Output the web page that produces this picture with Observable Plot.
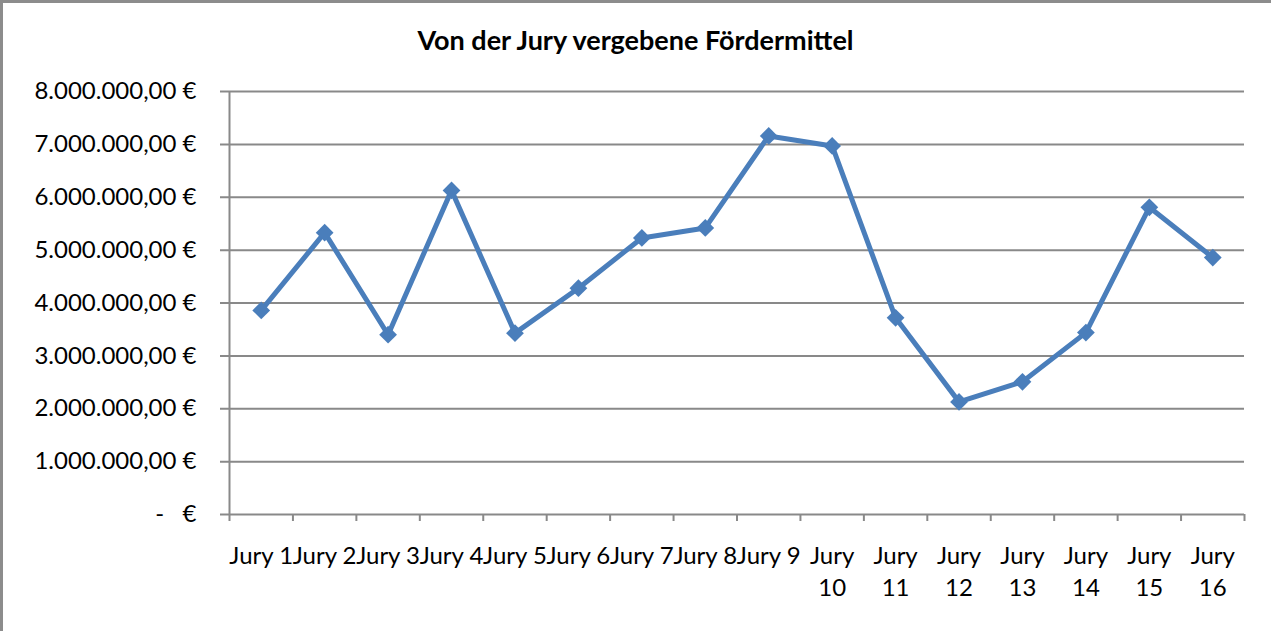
<!DOCTYPE html>
<html><head><meta charset="utf-8">
<script src="https://cdn.jsdelivr.net/npm/d3@7"></script>
<script src="https://cdn.jsdelivr.net/npm/@observablehq/plot@0.6"></script>
<style>
html,body{margin:0;padding:0;background:#fff;}
#wrap{position:relative;width:1271px;height:631px;overflow:hidden;font-family:Lato,sans-serif;background:#fff;}
#title{height:70px;box-sizing:border-box;padding-top:26px;line-height:27px;text-align:center;font-weight:bold;font-size:27px;color:#000;}
#frame{position:absolute;left:0;top:0;width:1271px;height:631px;border-top:3px solid #8c8c8c;border-left:3px solid #8c8c8c;box-sizing:border-box;pointer-events:none;}
svg{display:block;}
</style>
</head><body>
<div id="wrap"><div id="title">Von der Jury vergebene Fördermittel</div><div id="chart"></div><div id="frame"></div></div>
<script>
const categories = ["Jury 1","Jury 2","Jury 3","Jury 4","Jury 5","Jury 6","Jury 7","Jury 8","Jury 9","Jury\n10","Jury\n11","Jury\n12","Jury\n13","Jury\n14","Jury\n15","Jury\n16"];
const values = [3860000, 5330000, 3400000, 6130000, 3430000, 4280000, 5230000, 5420000, 7160000, 6970000, 3720000, 2130000, 2510000, 3440000, 5810000, 4860000];
const yTicks = [0, 1000000, 2000000, 3000000, 4000000, 5000000, 6000000, 7000000, 8000000];
const yTickLabels = ["-\u00a0\u00a0\u00a0€", "1.000.000,00 €", "2.000.000,00 €", "3.000.000,00 €", "4.000.000,00 €", "5.000.000,00 €", "6.000.000,00 €", "7.000.000,00 €", "8.000.000,00 €"];

const data = categories.map((c, k) => ({i: k + 1, label: c, v: values[k]}));
const boundaries = d3.range(0.5, categories.length + 1, 1);
const gray = "#898989";
const blue = "#4a7ebb";

const chart = Plot.plot({
  width: 1271, height: 561,
  marginTop: 21, marginBottom: 117, marginLeft: 229, marginRight: 27,
  style: {fontFamily: "Lato, sans-serif", fontSize: "24px", color: "#000", background: "transparent", overflow: "visible"},
  x: {domain: [0.5, categories.length + 0.5], label: null},
  y: {domain: [0, 8000000], label: null},
  marks: [
    Plot.ruleY(yTicks, {stroke: gray, strokeWidth: 2, insetLeft: -9}),
    Plot.ruleX([0.5], {stroke: gray, strokeWidth: 2}),
    Plot.axisX(boundaries, {tickSize: 7, tickFormat: () => "", stroke: gray, strokeWidth: 2, label: null}),
    Plot.axisY(yTicks, {tickSize: 0, tickPadding: 33, tickFormat: d => yTickLabels[yTicks.indexOf(d)], label: null, fontSize: 24, fill: "#000"}),
    Plot.text(data, {x: "i", text: "label", frameAnchor: "bottom", lineAnchor: "top", dy: 27, lineHeight: 1.33, fontSize: 24, fill: "#000"}),
    Plot.line(data, {x: "i", y: "v", stroke: blue, strokeWidth: 5, strokeLinejoin: "round"}),
    Plot.dot(data, {x: "i", y: "v", symbol: "diamond2", r: 8, fill: blue, stroke: "none"})
  ]
});
document.getElementById("chart").appendChild(chart);
</script>
</body></html>
